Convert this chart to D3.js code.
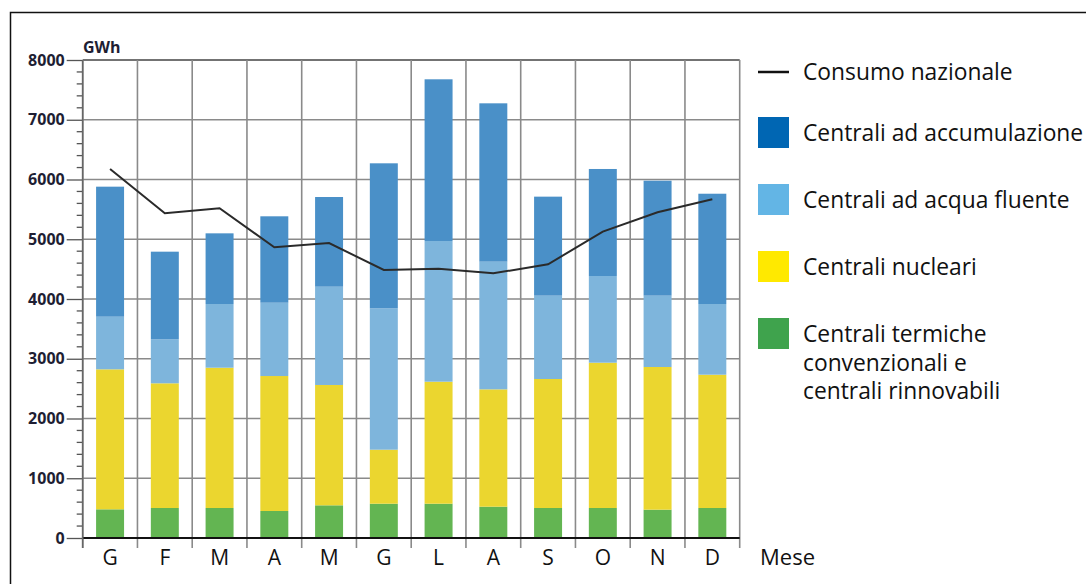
<!DOCTYPE html>
<html>
<head>
<meta charset="utf-8">
<script src="https://cdn.jsdelivr.net/npm/d3@7/dist/d3.min.js"></script>
<style>
  html, body { margin: 0; padding: 0; background: #fff; }
  svg { display: block; }
  text { font-family: "Open Sans", "Noto Sans", sans-serif; }
</style>
</head>
<body>
<svg id="chart" width="1086" height="584"></svg>
<script>
// Monthly electricity production by plant type (GWh) and national consumption
const months = ["G", "F", "M", "A", "M", "G", "L", "A", "S", "O", "N", "D"];
const termiche = [480, 502, 502, 452, 547, 574, 574, 524, 502, 502, 474, 502];
const nucleari = [2343, 2087, 2348, 2259, 2014, 904, 2042, 1964, 2159, 2432, 2388, 2231];
const fluente = [881, 736, 1066, 1227, 1645, 2366, 2355, 2137, 1395, 1451, 1194, 1183];
const accumulazione = [2176, 1467, 1183, 1446, 1501, 2427, 2706, 2650, 1657, 1791, 1924, 1846];
const consumo = [6176, 5434, 5518, 4865, 4937, 4485, 4507, 4430, 4581, 5127, 5451, 5669];
const yTicks = [0, 1000, 2000, 3000, 4000, 5000, 6000, 7000, 8000];

const seriesKeys = ["termiche", "nucleari", "fluente", "accumulazione"];
const barColors = {
  termiche: "#63b552",
  nucleari: "#ebd62f",
  fluente: "#7eb5dc",
  accumulazione: "#4a90c8"
};
const legendItems = [
  { type: "line", color: "#111", lines: ["Consumo nazionale"] },
  { type: "box", color: "#0066b3", lines: ["Centrali ad accumulazione"] },
  { type: "box", color: "#63b5e5", lines: ["Centrali ad acqua fluente"] },
  { type: "box", color: "#ffe900", lines: ["Centrali nucleari"] },
  { type: "box", color: "#3fa34d", lines: ["Centrali termiche", "convenzionali e", "centrali rinnovabili"] }
];

const rows = months.map((m, i) => ({
  i, termiche: termiche[i], nucleari: nucleari[i], fluente: fluente[i], accumulazione: accumulazione[i]
}));

const svg = d3.select("#chart");

// outer frame
svg.append("path")
  .attr("d", "M10.5,590 V12.5 H1090")
  .attr("fill", "none").attr("stroke", "#111").attr("stroke-width", 1.5);

const plotL = 82.7, plotR = 739.7, plotT = 60, plotB = 538;
const x = d3.scaleBand().domain(d3.range(months.length)).range([plotL, plotR])
  .paddingInner(0.489).paddingOuter(0.2445);
const y = d3.scaleLinear().domain([0, 8000]).range([plotB, plotT]);
const step = x.step();
const bounds = d3.range(months.length + 1).map(k => plotL + k * step);

const g = svg.append("g");

// horizontal gridlines
g.selectAll("line.hgrid").data(yTicks.filter(v => v > 0)).join("line")
  .attr("class", "hgrid")
  .attr("x1", plotL).attr("x2", plotR)
  .attr("y1", d => y(d)).attr("y2", d => y(d))
  .attr("stroke", d => d === 8000 ? "#444" : "#8a8a8a").attr("stroke-width", 1.6);

// vertical gridlines, extending below the baseline as ticks
g.selectAll("line.vgrid").data(bounds).join("line")
  .attr("class", "vgrid")
  .attr("x1", d => d).attr("x2", d => d)
  .attr("y1", plotT).attr("y2", plotB + 10)
  .attr("stroke", "#8a8a8a").attr("stroke-width", 1.6);

// stacked bars
const stack = d3.stack().keys(seriesKeys)(rows);
g.selectAll("g.layer").data(stack).join("g")
  .attr("class", "layer")
  .attr("fill", d => barColors[d.key])
  .selectAll("rect").data(d => d).join("rect")
  .attr("x", d => x(d.data.i))
  .attr("width", x.bandwidth())
  .attr("y", d => y(d[1]))
  .attr("height", d => y(d[0]) - y(d[1]));

// baseline
g.append("line").attr("x1", plotL).attr("x2", plotR)
  .attr("y1", plotB).attr("y2", plotB)
  .attr("stroke", "#111").attr("stroke-width", 2);

// y axis with minor ticks
const yAxis = d3.axisLeft(y).tickValues(yTicks).tickSize(16).tickPadding(2).tickFormat(d3.format("d"));
const ya = g.append("g").attr("transform", `translate(${plotL},0)`).call(yAxis);
ya.select(".domain").remove();
ya.selectAll(".tick line").attr("stroke", "#555").attr("stroke-width", 1.3);
ya.selectAll(".tick text")
  .attr("font-size", 16).attr("font-weight", 700).attr("fill", "#1e1e33")
  .style("font-family", "'Open Sans', sans-serif");
const minor = d3.range(200, 8000, 200).filter(v => v % 1000 !== 0);
g.selectAll("line.minor").data(minor).join("line")
  .attr("class", "minor")
  .attr("x1", plotL - 6).attr("x2", plotL)
  .attr("y1", d => y(d)).attr("y2", d => y(d))
  .attr("stroke", "#555").attr("stroke-width", 1.3);
g.append("line").attr("x1", plotL).attr("x2", plotL).attr("y1", plotT).attr("y2", plotB + 10)
  .attr("stroke", "#666").attr("stroke-width", 1.6);

// x labels
g.selectAll("text.xlab").data(months).join("text")
  .attr("class", "xlab")
  .attr("x", (d, i) => x(i) + x.bandwidth() / 2)
  .attr("y", 565)
  .attr("text-anchor", "middle")
  .attr("font-size", 21).attr("fill", "#111")
  .text(d => d);

svg.append("text").attr("x", 760).attr("y", 565)
  .attr("font-size", 22).attr("fill", "#111").text("Mese");
svg.append("text").attr("x", 83).attr("y", 53)
  .attr("font-size", 16).attr("font-weight", 700).attr("fill", "#1e1e33").text("GWh");

// consumption line
const line = d3.line()
  .x((d, i) => x(i) + x.bandwidth() / 2)
  .y(d => y(d));
g.append("path").datum(consumo)
  .attr("d", line)
  .attr("fill", "none").attr("stroke", "#2a2a2a").attr("stroke-width", 2);

// legend
const lg = svg.append("g");
const rowY = [72, 133, 200, 267, 334];
legendItems.forEach((it, k) => {
  const cy = rowY[k];
  if (it.type === "line") {
    lg.append("line").attr("x1", 758).attr("x2", 789).attr("y1", cy).attr("y2", cy)
      .attr("stroke", it.color).attr("stroke-width", 2.5);
  } else {
    lg.append("rect").attr("x", 758).attr("y", cy - 16).attr("width", 31).attr("height", 31)
      .attr("fill", it.color);
  }
  it.lines.forEach((t, j) => {
    lg.append("text").attr("x", 803).attr("y", cy + 8 + j * 28.5)
      .attr("font-size", 22.8).attr("fill", "#111").text(t);
  });
});
</script>
</body>
</html>
